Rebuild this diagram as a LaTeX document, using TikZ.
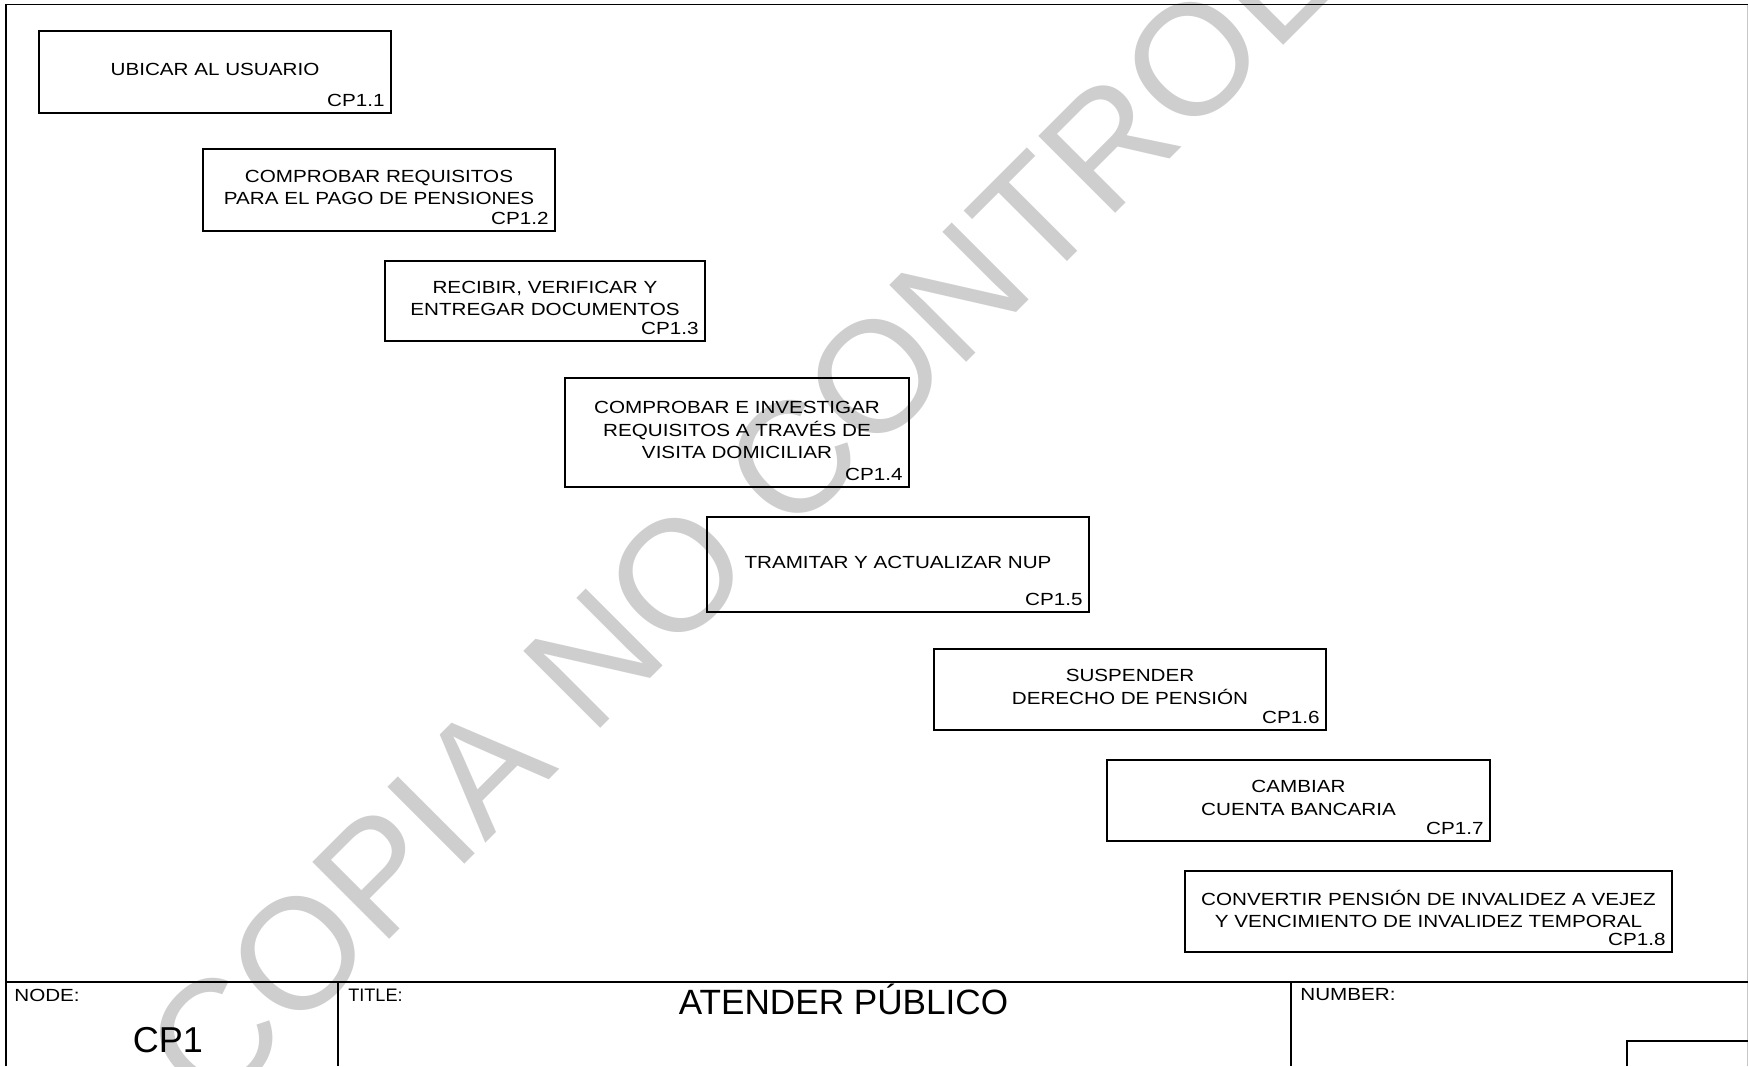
\documentclass[tikz,border=0pt]{standalone}
\usepackage{fontspec}
\setmainfont{Liberation Sans}
\newfontfamily\boxfont[FakeStretch=1.175]{Liberation Sans}
\definecolor{wmgray}{RGB}{206,206,206}

\tikzstyle{proc} = [draw, line width=1.1pt, inner sep=0pt, align=center, text depth=3pt, font={\fontsize{10}{12.75}\boxfont}]
\tikzstyle{cplabel} = [anchor=base east, inner sep=0pt, xshift=-0.14cm, yshift=0.14cm, font={\fontsize{10}{12}\boxfont}]
\tikzstyle{fieldlabel} = [anchor=base west, inner sep=0pt, font={\fontsize{10}{12}\boxfont}]
\tikzstyle{frameline} = [line width=0.9pt]

\begin{document}
\begin{tikzpicture}[x=0.02cm, y=0.02cm]
      \useasboundingbox (0,0) rectangle (1748,-1066);

      % watermark
      \node[text=wmgray, rotate=45, inner sep=0pt, font=\fontsize{90}{90}\selectfont] (wm) at (851,-401) {COPIA NO CONTROLADA};

      % frame and title block
      \draw[frameline] (6,-1066) -- (6,-4.5) -- (1748,-4.5);
      \draw[gray!45, line width=0.4pt] (1747,-4.5) -- (1747,-1066);
      \draw[frameline] (6,-982) -- (1748,-982);
      \draw[frameline] (338,-982) -- (338,-1066);
      \draw[frameline] (1291,-982) -- (1291,-1066);
      \draw[frameline] (1627,-1066) -- (1627,-1041) -- (1748,-1041);

      \node[fieldlabel] (nodelbl) at (14,-1001) {NODE:};
      \node[anchor=base, inner sep=0pt, font=\fontsize{20.5}{24}\selectfont] (nodeid) at (168,-1052) {CP1};
      \node[anchor=base west, inner sep=0pt, font=\fontsize{10.3}{12}\selectfont] (titlelbl) at (348,-1001) {TITLE:};
      \node[anchor=base, inner sep=0pt, font=\fontsize{20}{24}\selectfont] (title) at (843.5,-1014) {ATENDER PÚBLICO};
      \node[fieldlabel] (numlbl) at (1300,-1000) {NUMBER:};

      % activities
      \node[proc, minimum width=7.04cm, minimum height=1.64cm] (p1) at (215,-72) {UBICAR AL USUARIO};
      \node[cplabel] (c1) at (p1.south east) {CP1.1};

      \node[proc, minimum width=7.04cm, minimum height=1.64cm] (p2) at (379,-190) {COMPROBAR REQUISITOS\\PARA EL PAGO DE PENSIONES};
      \node[cplabel] (c2) at (p2.south east) {CP1.2};

      \node[proc, minimum width=6.4cm, minimum height=1.6cm] (p3) at (545,-301) {RECIBIR, VERIFICAR Y\\ENTREGAR DOCUMENTOS};
      \node[cplabel] (c3) at (p3.south east) {CP1.3};

      \node[proc, minimum width=6.88cm, minimum height=2.18cm] (p4) at (737,-432.5) {COMPROBAR E INVESTIGAR\\REQUISITOS A TRAVÉS DE\\VISITA DOMICILIAR};
      \node[cplabel] (c4) at (p4.south east) {CP1.4};

      \node[proc, minimum width=7.64cm, minimum height=1.9cm] (p5) at (898,-564.5) {TRAMITAR Y ACTUALIZAR NUP};
      \node[cplabel] (c5) at (p5.south east) {CP1.5};

      \node[proc, minimum width=7.84cm, minimum height=1.62cm] (p6) at (1130,-689.5) {SUSPENDER\\DERECHO DE PENSIÓN};
      \node[cplabel] (c6) at (p6.south east) {CP1.6};

      \node[proc, minimum width=7.66cm, minimum height=1.62cm] (p7) at (1298.5,-800.5) {CAMBIAR\\CUENTA BANCARIA};
      \node[cplabel] (c7) at (p7.south east) {CP1.7};

      \node[proc, minimum width=9.74cm, minimum height=1.62cm] (p8) at (1428.5,-911.5) {CONVERTIR PENSIÓN DE INVALIDEZ A VEJEZ\\Y VENCIMIENTO DE INVALIDEZ TEMPORAL};
      \node[cplabel] (c8) at (p8.south east) {CP1.8};
\end{tikzpicture}
\end{document}
